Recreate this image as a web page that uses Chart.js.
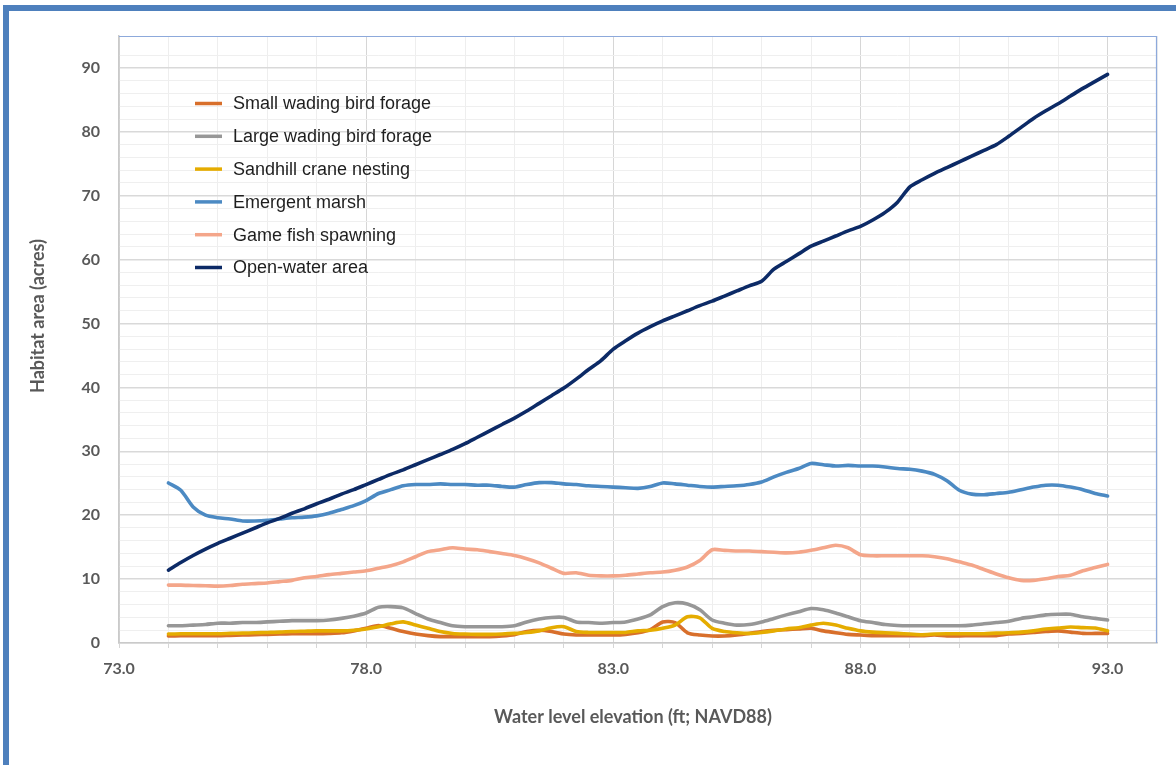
<!DOCTYPE html>
<html>
<head>
<meta charset="utf-8">
<script src="https://cdn.jsdelivr.net/npm/chart.js@4.4.1/dist/chart.umd.min.js"></script>
<style>
  html, body { margin: 0; padding: 0; background: #fff; width: 1176px; height: 765px; overflow: hidden; }
  #frame { position: absolute; left: 3px; top: 5px; width: 1300px; height: 900px;
           border-top: 6px solid #4E80BD; border-left: 6px solid #4E80BD; }
  #wrap { position: absolute; left: 0; top: 0; width: 1176px; height: 765px; }
</style>
</head>
<body>
<div id="frame"></div>
<div id="wrap"><canvas id="chart" width="1176" height="765"></canvas></div>
<script>
// Water level elevation (ft; NAVD88), sampled every 0.25 ft
const elevation = [
  74, 74.25, 74.5, 74.75, 75, 75.25, 75.5, 75.75, 76, 76.25, 76.5, 76.75,
  77, 77.25, 77.5, 77.75, 78, 78.25, 78.5, 78.75, 79, 79.25, 79.5, 79.75,
  80, 80.25, 80.5, 80.75, 81, 81.25, 81.5, 81.75, 82, 82.25, 82.5, 82.75,
  83, 83.25, 83.5, 83.75, 84, 84.25, 84.5, 84.75, 85, 85.25, 85.5, 85.75,
  86, 86.25, 86.5, 86.75, 87, 87.25, 87.5, 87.75, 88, 88.25, 88.5, 88.75,
  89, 89.25, 89.5, 89.75, 90, 90.25, 90.5, 90.75, 91, 91.25, 91.5, 91.75,
  92, 92.25, 92.5, 92.75, 93
];

// Habitat area (acres) for each elevation
const smallWadingBird = [
  1.1, 1.15, 1.15, 1.15, 1.15, 1.2, 1.25, 1.3, 1.35, 1.4, 1.45, 1.45,
  1.45, 1.5, 1.6, 1.9, 2.3, 2.75, 2.3, 1.8, 1.4, 1.15, 1.0, 1.0,
  1.0, 1.0, 1.0, 1.1, 1.3, 1.8, 2.0, 1.8, 1.4, 1.25, 1.25, 1.25,
  1.25, 1.35, 1.6, 2.1, 3.3, 3.2, 1.6, 1.25, 1.1, 1.1, 1.25, 1.5,
  1.8, 2.0, 2.1, 2.2, 2.3, 1.9, 1.6, 1.35, 1.25, 1.15, 1.15, 1.15,
  1.15, 1.15, 1.25, 1.1, 1.1, 1.15, 1.15, 1.15, 1.4, 1.5, 1.65, 1.8,
  1.9, 1.7, 1.5, 1.5, 1.5
];
const largeWadingBird = [
  2.7, 2.7, 2.8, 2.9, 3.1, 3.1, 3.2, 3.2, 3.3, 3.4, 3.5, 3.5,
  3.5, 3.6, 3.85, 4.2, 4.7, 5.6, 5.7, 5.5, 4.6, 3.75, 3.2, 2.7,
  2.55, 2.55, 2.55, 2.55, 2.7, 3.3, 3.75, 4.0, 4.0, 3.3, 3.2, 3.1,
  3.2, 3.3, 3.75, 4.4, 5.7, 6.3, 6.1, 5.2, 3.6, 3.1, 2.8, 2.9,
  3.3, 3.85, 4.4, 4.9, 5.4, 5.2, 4.7, 4.1, 3.5, 3.2, 2.9, 2.75,
  2.7, 2.7, 2.7, 2.7, 2.7, 2.8, 3.0, 3.2, 3.4, 3.85, 4.1, 4.4,
  4.5, 4.5, 4.1, 3.85, 3.6
];
const sandhillCrane = [
  1.4, 1.45, 1.45, 1.45, 1.45, 1.5, 1.55, 1.6, 1.65, 1.7, 1.8, 1.85,
  1.9, 1.9, 1.9, 2.0, 2.2, 2.55, 3.0, 3.3, 2.8, 2.3, 1.8, 1.5,
  1.4, 1.35, 1.35, 1.4, 1.5, 1.65, 1.9, 2.4, 2.55, 1.8, 1.65, 1.65,
  1.65, 1.65, 1.9, 2.0, 2.3, 2.8, 4.1, 3.95, 2.3, 1.8, 1.6, 1.5,
  1.65, 1.9, 2.2, 2.4, 2.8, 3.1, 2.8, 2.3, 1.9, 1.7, 1.6, 1.5,
  1.4, 1.3, 1.4, 1.45, 1.45, 1.45, 1.45, 1.55, 1.6, 1.7, 1.9, 2.2,
  2.35, 2.5, 2.4, 2.35, 1.9
];
const emergentMarsh = [
  25.05, 23.9, 21.3, 20.0, 19.6, 19.4, 19.1, 19.1, 19.2, 19.4, 19.6, 19.7,
  19.9, 20.3, 20.9, 21.5, 22.3, 23.4, 24.0, 24.6, 24.8, 24.8, 24.9, 24.8,
  24.8, 24.7, 24.7, 24.5, 24.4, 24.8, 25.1, 25.1, 24.9, 24.8, 24.6, 24.5,
  24.4, 24.3, 24.2, 24.5, 25.05, 24.9, 24.7, 24.5, 24.4, 24.5, 24.6, 24.8,
  25.2, 26.0, 26.7, 27.3, 28.1, 27.9, 27.7, 27.8, 27.7, 27.7, 27.55, 27.3,
  27.2, 26.9, 26.4, 25.4, 23.9, 23.3, 23.2, 23.4, 23.6, 24.0, 24.4, 24.7,
  24.7, 24.4, 24.0, 23.4, 23.0
];
const gameFishSpawning = [
  9.06, 9.06, 9.0, 8.96, 8.9, 9.0, 9.2, 9.3, 9.4, 9.6, 9.8, 10.2,
  10.4, 10.7, 10.9, 11.1, 11.3, 11.7, 12.1, 12.7, 13.5, 14.3, 14.6, 14.9,
  14.7, 14.6, 14.3, 14.0, 13.7, 13.2, 12.55, 11.7, 10.9, 11.0, 10.6, 10.5,
  10.5, 10.6, 10.8, 11.0, 11.1, 11.4, 11.9, 12.9, 14.6, 14.5, 14.4, 14.4,
  14.3, 14.2, 14.1, 14.2, 14.5, 14.9, 15.3, 14.9, 13.8, 13.65, 13.65, 13.65,
  13.65, 13.65, 13.5, 13.2, 12.7, 12.2, 11.5, 10.8, 10.2, 9.8, 9.8, 10.05,
  10.4, 10.6, 11.3, 11.8, 12.3
];
const openWaterArea = [
  11.4, 12.6, 13.7, 14.7, 15.6, 16.4, 17.2, 18.0, 18.8, 19.5, 20.3, 21.0,
  21.8, 22.5, 23.3, 24.0, 24.8, 25.6, 26.4, 27.1, 27.9, 28.7, 29.5, 30.3,
  31.2, 32.2, 33.2, 34.2, 35.2, 36.3, 37.5, 38.7, 39.9, 41.3, 42.8, 44.2,
  46.0, 47.3, 48.5, 49.5, 50.4, 51.2, 52.0, 52.8, 53.5, 54.3, 55.1, 55.9,
  56.6, 58.5, 59.7, 60.9, 62.1, 62.9, 63.7, 64.5, 65.2, 66.2, 67.4, 69.0,
  71.4, 72.5, 73.5, 74.4, 75.3, 76.2, 77.1, 78.0, 79.3, 80.7, 82.1, 83.3,
  84.4, 85.6, 86.8, 87.9, 89.0
];

const seriesNames = [
  'Small wading bird forage', 'Large wading bird forage', 'Sandhill crane nesting',
  'Emergent marsh', 'Game fish spawning', 'Open-water area'
];
const seriesValues = [
  smallWadingBird, largeWadingBird, sandhillCrane,
  emergentMarsh, gameFishSpawning, openWaterArea
];
const seriesColors = ['#D86F2B', '#979797', '#E5AC00', '#4C8AC3', '#F4A68A', '#0C2A66'];

const xTitle = 'Water level elevation (ft; NAVD88)';
const yTitle = 'Habitat area (acres)';

const axisFont = { family: 'Lato', size: 16, weight: 'bold' };
const textGray = '#595959';

const datasets = seriesValues.map((vals, i) => ({
  label: seriesNames[i],
  data: vals.map((v, j) => ({ x: elevation[j], y: v })),
  borderColor: seriesColors[i],
  backgroundColor: seriesColors[i],
  borderWidth: 3.6,
  pointRadius: 0,
  tension: 0.25,
  borderCapStyle: 'round',
  borderJoinStyle: 'round',
  fill: false,
  // later series sit on top
  order: seriesValues.length - i
}));

// Legend inside the plot, plus axis titles and the plot frame
const decorations = {
  id: 'decorations',
  afterDraw(chart) {
    const { ctx, chartArea } = chart;
    ctx.save();

    // plot frame (top and right edges)
    ctx.strokeStyle = '#8DA9DB';
    ctx.lineWidth = 1.2;
    ctx.beginPath();
    ctx.moveTo(chartArea.left, chartArea.top + 0.5);
    ctx.lineTo(chartArea.right - 0.5, chartArea.top + 0.5);
    ctx.lineTo(chartArea.right - 0.5, chartArea.bottom);
    ctx.stroke();

    // legend
    const lx = chartArea.left + 76;
    const ly = chartArea.top + 67.5;
    const rowGap = 32.8;
    ctx.font = '18px "Liberation Sans", Arial, sans-serif';
    ctx.textBaseline = 'middle';
    ctx.textAlign = 'left';
    seriesNames.forEach((name, i) => {
      const y = ly + i * rowGap;
      ctx.strokeStyle = seriesColors[i];
      ctx.lineWidth = 3.5;
      ctx.lineCap = 'butt';
      ctx.beginPath();
      ctx.moveTo(lx, y);
      ctx.lineTo(lx + 27, y);
      ctx.stroke();
      ctx.fillStyle = '#1E1E1E';
      ctx.fillText(name, lx + 38, y + 1);
    });

    // axis titles
    ctx.fillStyle = textGray;
    ctx.font = 'bold 18px Lato, sans-serif';
    ctx.textAlign = 'center';
    ctx.textBaseline = 'middle';
    ctx.fillText(xTitle, 633, 717);
    ctx.translate(38, 316);
    ctx.rotate(-Math.PI / 2);
    ctx.fillText(yTitle, 0, 0);
    ctx.restore();
  }
};

new Chart(document.getElementById('chart'), {
  type: 'line',
  data: { datasets },
  options: {
    responsive: false,
    animation: false,
    devicePixelRatio: 1,
    layout: { padding: { top: 36, right: 19, left: 0, bottom: 0 } },
    plugins: { legend: { display: false }, tooltip: { enabled: false } },
    scales: {
      x: {
        type: 'linear',
        min: 73,
        max: 94,
        afterFit: s => { s.height = 122; },
        ticks: {
          stepSize: 1,
          autoSkip: false,
          maxRotation: 0,
          padding: 11,
          color: textGray,
          font: axisFont,
          callback: v => ((v - 73) % 5 === 0 && v <= 93) ? v.toFixed(1) : ''
        },
        grid: {
          color: c => (c.tick && (c.tick.value - 73) % 5 === 0) ? '#D6D6D6' : '#EEEEEE',
          tickColor: c => (c.tick && c.tick.value > 93) ? 'rgba(0,0,0,0)' : '#D6D6D6',
          tickLength: 5,
          drawTicks: true
        },
        border: { color: '#CACACA', width: 1.5 }
      },
      y: {
        min: 0,
        max: 95,
        afterFit: s => { s.width = 119; },
        ticks: {
          stepSize: 2,
          autoSkip: false,
          padding: 19,
          color: textGray,
          font: axisFont,
          callback: v => (v % 10 === 0) ? String(v) : ''
        },
        grid: {
          color: c => (c.tick && c.tick.value % 10 === 0) ? '#D9D9D9' : '#EFEFEF',
          lineWidth: c => (c.tick && c.tick.value % 10 === 0) ? 1.5 : 1,
          drawTicks: false
        },
        border: { color: '#CACACA', width: 1.5 }
      }
    }
  },
  plugins: [decorations]
});
</script>
</body>
</html>
